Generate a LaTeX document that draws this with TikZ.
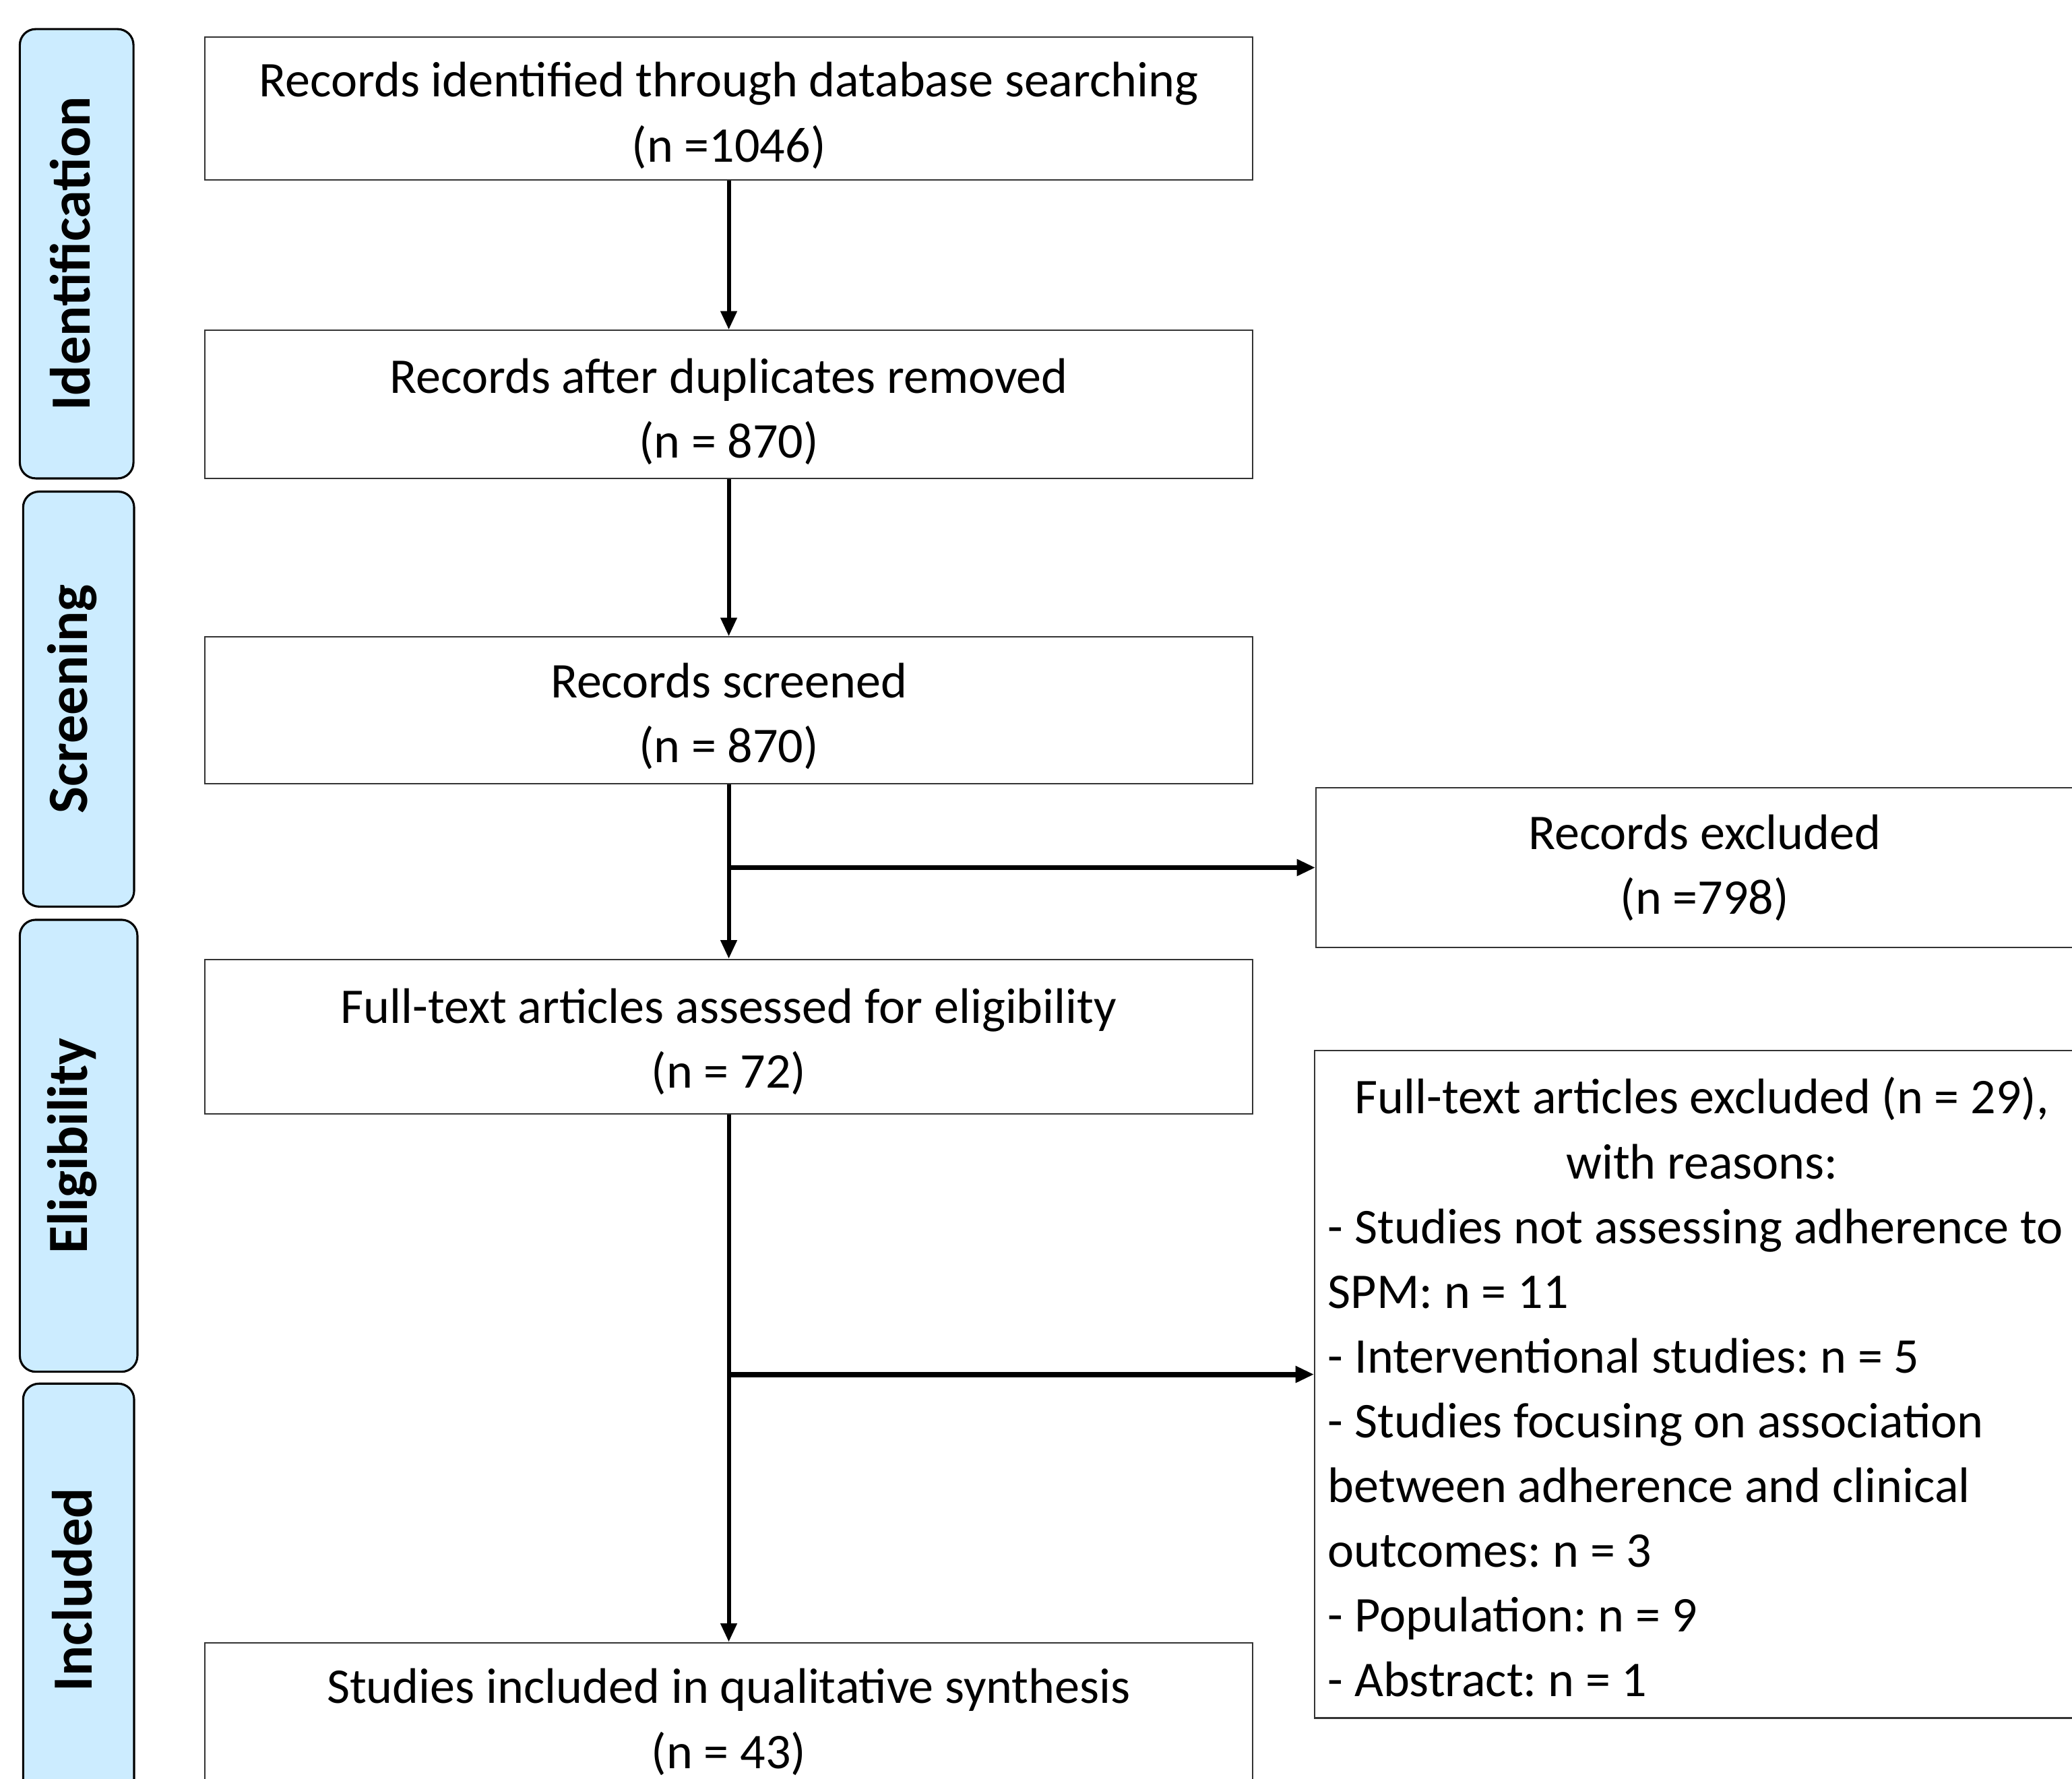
\documentclass[tikz,border=0pt]{standalone}
\usepackage{fontspec}
\setmainfont{Carlito}
\usetikzlibrary{arrows.meta}

\definecolor{stagefill}{RGB}{204,236,255}

% push the first line of a box down
\newcommand{\toprule}[1]{\rule{0pt}{#1}}
\newcommand{\stagelabel}[1]{\rotatebox{90}{#1}\kern5pt}

\tikzset{
  box/.style={draw=black!80, line width=0.6pt, fill=white, align=center,
    inner xsep=5pt, inner ysep=2pt, minimum width=396.5pt, font=\fontsize{18.9}{24.5}\selectfont\frenchspacing},
  sidebox/.style={box, minimum width=294pt},
  stage/.style={draw=black, line width=0.8pt, fill=stagefill, rounded corners=6pt,
    minimum width=42pt, font=\fontsize{21.5}{24}\selectfont\bfseries},
  arr/.style={line width=1.5pt, -{Triangle[length=7pt,width=6pt]}},
  branch/.style={line width=2pt, -{Triangle[length=7pt,width=6pt]}},
}

\begin{document}
\begin{tikzpicture}[x=0.5pt,y=-0.5pt]
  \useasboundingbox (0,0) rectangle (1568,1346);
  \clip (0,0) rectangle (1568,1346);

  % stage tabs
  \node[stage, minimum width=43pt, minimum height=170pt] (ident) at (58,192) {\stagelabel{Identification}};
  \node[stage, minimum height=157pt] (screen) at (59.5,529) {\stagelabel{Screening}};
  \node[stage, minimum width=44.5pt, minimum height=171pt] (elig) at (59.5,867) {\stagelabel{Eligibility}};
  \node[stage, minimum height=156pt] (incl) at (59.5,1203) {\stagelabel{Included}};

  % main column
  \node[box, minimum height=54pt] (b1) at (551.5,82) {\toprule{18.5pt}Records identified through database searching\\(n =1046)};
  \node[box, minimum height=56pt] (b2) at (551.5,306) {\toprule{18.5pt}Records after duplicates removed\\(n = 870)};
  \node[box, minimum height=55.5pt] (b3) at (551.5,537.5) {\toprule{17.5pt}Records screened\\(n = 870)};
  \node[box, minimum height=58.5pt] (b4) at (551.5,784.5) {\toprule{17pt}Full-text articles assessed for eligibility\\(n = 72)};
  \node[box, minimum height=60pt] (b5) at (551.5,1303) {Studies included in qualitative synthesis\\(n = 43)};

  % exclusions
  \node[sidebox, minimum height=60.5pt] (r1) at (1290,656.5) {Records excluded\\(n =798)};
  \node[sidebox, minimum width=293pt, minimum height=252.5pt, text width=283pt, align=flush left] (r2) at (1288,1047.5)
    {\toprule{16pt}\makebox[\linewidth]{Full-text articles excluded (n = 29),}\\
     \makebox[\linewidth]{with reasons:}\\
     \mbox{- Studies not assessing adherence to}\\
     SPM: n = 11\\
     - Interventional studies: n = 5\\
     - Studies focusing on association\\
     between adherence and clinical\\
     outcomes: n = 3\\
     - Population: n = 9\\
     - Abstract: n = 1};
  \coordinate (r2in) at ([yshift=3.75pt]r2.west);

  \draw[arr] (b1) -- (b2);
  \draw[arr] (b2) -- (b3);
  \draw[arr] (b3) -- (b4);
  \draw[arr] (b4) -- (b5);
  \draw[branch] (b3.south |- r1.west) -- (r1.west);
  \draw[branch] (b4.south |- r2in) -- (r2in);
\end{tikzpicture}
\end{document}
